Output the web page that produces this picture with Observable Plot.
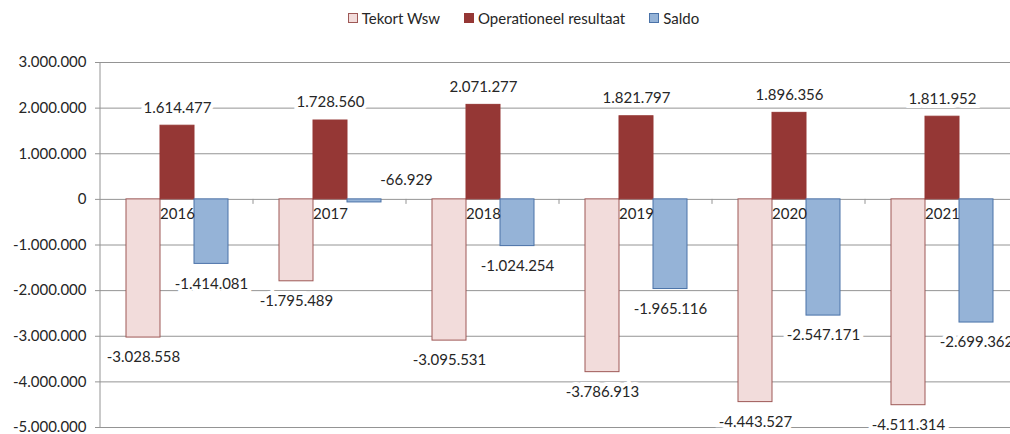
<!DOCTYPE html>
<html>
<head>
<meta charset="utf-8">
<script src="https://cdn.jsdelivr.net/npm/d3@7"></script>
<script src="https://cdn.jsdelivr.net/npm/@observablehq/plot@0.6"></script>
<style>
  html, body { margin: 0; padding: 0; background: #fff; overflow: hidden; width: 1010px; height: 434px; }
  #legend { height: 36px; display: flex; justify-content: center; align-items: center; padding-left: 37px;
            font: 15px Lato, sans-serif; color: #262626; }
  #legend .item { display: flex; align-items: center; margin: 0 12px; }
  #legend .sw { display: inline-block; width: 10px; height: 10px; box-sizing: border-box; border: 1px solid; margin-right: 4px; }
  #chart svg { display: block; }
</style>
</head>
<body>
<div id="legend"></div>
<div id="chart"></div>
<script>
// ---- data ----
const years = ["2016", "2017", "2018", "2019", "2020", "2021"];
const series = ["Tekort Wsw", "Operationeel resultaat", "Saldo"];
const tekortWsw = [-3028558, -1795489, -3095531, -3786913, -4443527, -4511314];
const operationeelResultaat = [1614477, 1728560, 2071277, 1821797, 1896356, 1811952];
const saldo = [-1414081, -66929, -1024254, -1965116, -2547171, -2699362];
const yTicks = [3000000, 2000000, 1000000, 0, -1000000, -2000000, -3000000, -4000000, -5000000];
const fills = ["#F2DCDB", "#953735", "#95B3D7"];
const strokes = ["#9E5856", "#953735", "#4A72A8"];

const valuesBySeries = [tekortWsw, operationeelResultaat, saldo];
const data = years.flatMap((year, i) =>
  series.map((s, k) => ({year, series: s, value: valuesBySeries[k][i]})));

const nl = d3.formatLocale({decimal: ",", thousands: ".", grouping: [3], currency: ["€", ""], minus: "-"});
const fmt = nl.format(",d");

// ---- legend ----
const legend = d3.select("#legend");
series.forEach((s, k) => {
  const it = legend.append("div").attr("class", "item");
  it.append("span").attr("class", "sw").style("background", fills[k]).style("border-color", strokes[k]);
  it.append("span").text(s);
});

// ---- chart ----
const textStyle = {fill: "#262626", fontSize: 15};
const haloStyle = {stroke: "white", strokeWidth: 8, paintOrder: "stroke", strokeLinejoin: "miter"};

const plot = Plot.plot({
  width: 1010,
  height: 398,
  marginLeft: 99,
  marginRight: -8,
  marginTop: 26,
  marginBottom: 7,
  style: {fontFamily: "Lato, sans-serif", fontSize: "15px", color: "#262626", background: "white", overflow: "hidden"},
  fx: {domain: years, padding: 0, axis: null},
  x: {domain: series, paddingInner: 0, paddingOuter: 0.75, axis: null},
  y: {domain: [-5000000, 3000000], label: null},
  marks: [
    Plot.gridY(yTicks, {stroke: "#949494", strokeOpacity: 1}),
    Plot.axisY(yTicks, {tickSize: 5, tickPadding: 9, tickFormat: fmt, stroke: "#949494", label: null, ...textStyle}),
    ...series.map((s, k) => Plot.barY(data.filter(d => d.series === s), {
      fx: "year", x: "series", y: "value", fill: fills[k], stroke: strokes[k], strokeWidth: 1
    })),
    Plot.text(years, {fx: d => d, x: () => series[1], y: () => 0, text: d => d, dy: 15, ...textStyle}),
    Plot.text(data.filter(d => d.value > 0), {
      fx: "year", x: "series", y: "value", text: d => fmt(d.value), dy: -18, ...haloStyle, ...textStyle
    }),
    Plot.text(data.filter(d => d.value < -500000), {
      fx: "year", x: "series", y: "value", text: d => fmt(d.value), dy: 20, ...haloStyle, ...textStyle
    }),
    Plot.text(data.filter(d => d.value < 0 && d.value >= -500000), {
      fx: "year", x: "series", y: () => 0, text: d => fmt(d.value), dy: -19, dx: 42, ...haloStyle, ...textStyle
    })
  ]
});

// axis line and category boundary ticks, positioned with Plot's own scales
const yS = plot.scale("y"), fxS = plot.scale("fx");
const svg = d3.select(plot);
const g = svg.append("g").attr("stroke", "#949494").attr("stroke-width", 1);
const x0 = fxS.apply(years[0]);
g.append("line").attr("x1", x0).attr("x2", x0).attr("y1", yS.apply(yTicks[0])).attr("y2", yS.apply(yTicks[yTicks.length - 1]));
const yZero = yS.apply(0);
years.forEach(yr => {
  const xb = fxS.apply(yr) + fxS.bandwidth;
  g.append("line").attr("x1", xb).attr("x2", xb).attr("y1", yZero).attr("y2", yZero + 5);
});
document.getElementById("chart").append(plot);
</script>
</body>
</html>
